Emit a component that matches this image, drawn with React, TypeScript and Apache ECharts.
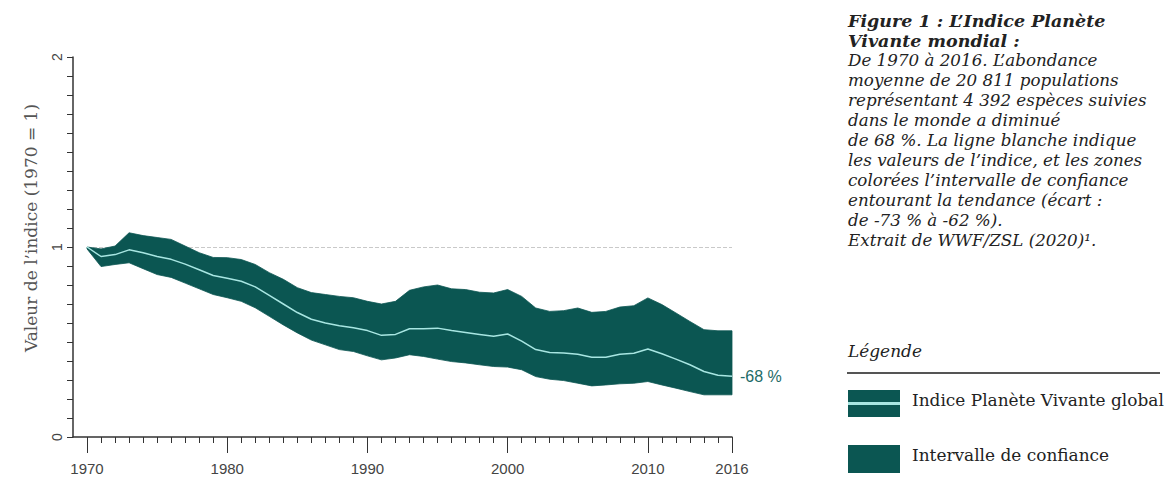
import React, { useEffect, useRef } from "react";
import * as echarts from "echarts";

// Living Planet Index, 1970–2016 (1970 = 1)
const years: number[] = [
  1970, 1971, 1972, 1973, 1974, 1975, 1976, 1977, 1978, 1979,
  1980, 1981, 1982, 1983, 1984, 1985, 1986, 1987, 1988, 1989,
  1990, 1991, 1992, 1993, 1994, 1995, 1996, 1997, 1998, 1999,
  2000, 2001, 2002, 2003, 2004, 2005, 2006, 2007, 2008, 2009,
  2010, 2011, 2012, 2013, 2014, 2015, 2016,
];

const indexValues: number[] = [
  1.0, 0.95, 0.96, 0.985, 0.97, 0.95, 0.935, 0.91, 0.88, 0.85,
  0.835, 0.82, 0.79, 0.745, 0.7, 0.655, 0.62, 0.6, 0.585, 0.575,
  0.56, 0.535, 0.54, 0.57, 0.57, 0.573, 0.56, 0.55, 0.54, 0.53,
  0.542, 0.505, 0.46, 0.445, 0.442, 0.436, 0.42, 0.42, 0.436, 0.441,
  0.463, 0.438, 0.41, 0.38, 0.345, 0.325, 0.32,
];

const upperValues: number[] = [
  1.0, 0.99, 1.005, 1.075, 1.06, 1.05, 1.04, 1.005, 0.97, 0.945,
  0.944, 0.934, 0.908, 0.865, 0.83, 0.786, 0.76, 0.75, 0.74, 0.733,
  0.714, 0.7, 0.714, 0.772, 0.79, 0.8, 0.78, 0.776, 0.762, 0.758,
  0.776, 0.74, 0.679, 0.661, 0.665, 0.679, 0.656, 0.661, 0.684, 0.691,
  0.732, 0.697, 0.653, 0.608, 0.565, 0.559, 0.559,
];

const lowerValues: number[] = [
  0.99, 0.897, 0.908, 0.917, 0.886, 0.855, 0.84, 0.81, 0.78, 0.75,
  0.733, 0.714, 0.68, 0.635, 0.59, 0.548, 0.51, 0.485, 0.46, 0.45,
  0.427, 0.406, 0.416, 0.433, 0.424, 0.41, 0.397, 0.39, 0.38, 0.371,
  0.368, 0.354, 0.318, 0.304, 0.297, 0.283, 0.269, 0.274, 0.28, 0.283,
  0.292, 0.274, 0.257, 0.239, 0.222, 0.222, 0.222,
];

const labelYears: number[] = [1970, 1980, 1990, 2000, 2010, 2016];
const yLabelValues: number[] = [0, 1, 2];

const yAxisTitle = "Valeur de l’indice (1970 = 1)";
const captionTitle: string[] = ["Figure 1 : L’Indice Planète", "Vivante mondial :"];
const captionBody: string[] = [
  "De 1970 à 2016. L’abondance",
  "moyenne de 20 811 populations",
  "représentant 4 392 espèces suivies",
  "dans le monde a diminué",
  "de 68 %. La ligne blanche indique",
  "les valeurs de l’indice, et les zones",
  "colorées l’intervalle de confiance",
  "entourant la tendance (écart :",
  "de -73 % à -62 %).",
  "Extrait de WWF/ZSL (2020)¹.",
];
const legendTitle = "Légende";
const legendItems: string[] = ["Indice Planète Vivante global", "Intervalle de confiance"];

const TEAL = "#0b5652";
const LIGHT = "#a8e6e2";
const INK = "#222222";
const AXIS = "#333333";
const SERIF = "'DejaVu Serif', 'Liberation Serif', serif";
const NARROW = "'Liberation Sans Narrow', 'Liberation Sans', sans-serif";

export default function App() {
  const ref = useRef<HTMLDivElement>(null);

  useEffect(() => {
    if (!ref.current) return;
    const chart = echarts.init(ref.current, undefined, { renderer: "svg" });

    const yTicks: number[] = [];
    for (let i = 0; i <= 20; i++) yTicks.push(i / 10);

    const captionLines = [
      ...captionTitle.map((t) => ({ t, bold: true })),
      ...captionBody.map((t) => ({ t, bold: false })),
    ];

    const graphics: any[] = [
      {
        type: "text",
        x: 31,
        y: 228,
        rotation: Math.PI / 2,
        style: {
          text: yAxisTitle,
          font: `17px ${SERIF}`,
          fill: "#555",
          align: "center",
          verticalAlign: "middle",
        },
      },
      ...captionLines.map((l, i) => ({
        type: "text",
        x: 848,
        y: 21 + i * 20,
        scaleX: l.bold ? 1.03 : 1.045,
        style: {
          text: l.t,
          font: `italic ${l.bold ? "bold 17px" : "16px"} ${SERIF}`,
          fill: INK,
          align: "left",
          verticalAlign: "middle",
        },
      })),
      {
        type: "text",
        x: 848,
        y: 352,
        scaleX: 1.06,
        style: {
          text: legendTitle,
          font: `italic 16px ${SERIF}`,
          fill: INK,
          align: "left",
          verticalAlign: "middle",
        },
      },
      {
        type: "line",
        shape: { x1: 847, y1: 373, x2: 1160, y2: 373 },
        style: { stroke: "#555", lineWidth: 2 },
      },
      { type: "rect", shape: { x: 848, y: 390, width: 52, height: 27 }, style: { fill: TEAL } },
      {
        type: "line",
        shape: { x1: 848, y1: 403.5, x2: 900, y2: 403.5 },
        style: { stroke: LIGHT, lineWidth: 3 },
      },
      { type: "rect", shape: { x: 848, y: 445, width: 52, height: 28 }, style: { fill: TEAL } },
      ...legendItems.map((t, i) => ({
        type: "text",
        x: 912,
        y: i === 0 ? 401 : 456,
        scaleX: 1.06,
        style: {
          text: t,
          font: `16px ${SERIF}`,
          fill: INK,
          align: "left",
          verticalAlign: "middle",
        },
      })),
    ];

    chart.setOption({
      animation: false,
      backgroundColor: "#fff",
      grid: { left: 73, right: 433, top: 57, bottom: 40, containLabel: false },
      xAxis: [
        {
          type: "value",
          min: 1969,
          max: 2016,
          axisLine: { show: true, lineStyle: { color: AXIS, width: 1.5 } },
          axisTick: { show: true, customValues: years, length: 6, lineStyle: { color: AXIS } },
          axisLabel: { show: false },
          splitLine: { show: false },
        },
        {
          type: "value",
          min: 1969,
          max: 2016,
          position: "bottom",
          axisLine: { show: false },
          axisTick: { show: true, customValues: labelYears, length: 16, lineStyle: { color: AXIS } },
          axisLabel: {
            show: true,
            customValues: labelYears,
            margin: 24,
            fontFamily: NARROW,
            fontSize: 15,
            color: "#444",
            formatter: (v: number) => String(v),
          },
          splitLine: { show: false },
        },
      ],
      yAxis: {
        type: "value",
        min: 0,
        max: 2,
        axisLine: { show: true, lineStyle: { color: AXIS, width: 1.5 } },
        axisTick: { show: true, customValues: yTicks, length: 6, lineStyle: { color: AXIS } },
        axisLabel: {
          show: true,
          customValues: yLabelValues,
          rotate: 90,
          margin: 9,
          fontFamily: NARROW,
          fontSize: 14,
          color: "#444",
          formatter: (v: number) => String(v),
        },
        splitLine: { show: false },
      },
      graphic: graphics,
      series: [
        {
          // confidence band: one polygon through the upper bounds and back along the lower ones
          name: "Intervalle de confiance",
          type: "custom",
          xAxisIndex: 0,
          yAxisIndex: 0,
          z: 3,
          silent: true,
          data: [[years[0], upperValues[0]]],
          renderItem: (_params: any, api: any) => {
            const pts: number[][] = [];
            for (let i = 0; i < years.length; i++) pts.push(api.coord([years[i], upperValues[i]]));
            for (let i = years.length - 1; i >= 0; i--) pts.push(api.coord([years[i], lowerValues[i]]));
            return {
              type: "polygon",
              shape: { points: pts },
              style: { fill: TEAL, stroke: TEAL, lineWidth: 0.8 },
            };
          },
        },
        {
          name: "Indice Planète Vivante global",
          type: "line",
          xAxisIndex: 0,
          symbol: "none",
          z: 4,
          lineStyle: { color: LIGHT, width: 1.5 },
          data: years.map((y, i) => [y, indexValues[i]]),
          markLine: {
            silent: true,
            symbol: "none",
            z: 1,
            label: { show: false },
            lineStyle: { color: "#c9c9c9", type: "dashed", width: 1 },
            data: [[{ coord: [years[0], 1] }, { coord: [years[years.length - 1], 1] }]],
          },
          endLabel: {
            show: true,
            distance: 8,
            fontFamily: NARROW,
            fontSize: 16,
            color: "#1d6b67",
            formatter: (p: any) => `${Math.round((p.value[1] - 1) * 100)} %`,
          },
        },
      ],
    });

    return () => chart.dispose();
  }, []);

  return (
    <div
      ref={ref}
      style={{ position: "absolute", left: 0, top: 0, width: 1165, height: 477, background: "#fff" }}
    />
  );
}
